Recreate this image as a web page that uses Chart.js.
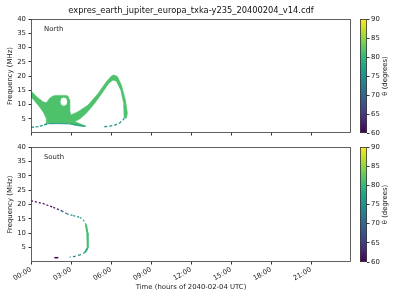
<!DOCTYPE html>
<html>
<head>
<meta charset="utf-8">
<script src="https://cdn.jsdelivr.net/npm/chart.js@4.4.0/dist/chart.umd.min.js"></script>
<style>
  html, body { margin: 0; padding: 0; background: #fff; }
  #wrap { position: relative; width: 400px; height: 300px; overflow: hidden; }
  #wrap canvas { position: absolute; }
</style>
</head>
<body>
<div id="wrap">
  <canvas id="north" width="380" height="140" style="left:0;top:0"></canvas>
  <canvas id="south" width="380" height="160" style="left:0;top:140px"></canvas>
  <canvas id="cbNorth" width="45" height="140" style="left:355px;top:0"></canvas>
  <canvas id="cbSouth" width="45" height="160" style="left:355px;top:140px"></canvas>
</div>
<script>
// 刻度
const xTickHours = [0, 3, 6, 9, 12, 15, 18, 21];
const xTickLabels = ['00:00', '03:00', '06:00', '09:00', '12:00', '15:00', '18:00', '21:00'];
const yTicks = [5, 10, 15, 20, 25, 30, 35, 40];
const thetaTicks = [60, 65, 70, 75, 80, 85, 90];

// North: 发射区轮廓 [小时, MHz]
const northShape = [
  [0, 14.8], [0.45, 12.6], [0.9, 11.0], [1.15, 10.6], [1.4, 12.2], [1.65, 13.0],
  [1.9, 13.2], [2.65, 13.2], [2.78, 12.9], [2.9, 11.6], [2.9, 8.1], [2.98, 6.3],
  [3.53, 7.5], [4.28, 9.8], [5.03, 13.9], [5.65, 18.0], [6.03, 20.0], [6.23, 20.35],
  [6.48, 19.8], [6.78, 16.8], [7.08, 11.6], [7.23, 6.9], [7.15, 5.15], [6.98, 5.4],
  [6.95, 10.4], [6.73, 15.1], [6.4, 18.2], [6.15, 18.6], [5.83, 17.4], [5.4, 14.5],
  [4.78, 10.4], [4.15, 6.9], [3.65, 4.9], [3.28, 4.0], [3.65, 3.3], [3.9, 2.8],
  [4.1, 2.4], [3.9, 2.25], [3.28, 2.7], [2.9, 3.3], [2.0, 3.4], [1.3, 3.3],
  [1.0, 2.8], [1.18, 3.8], [1.15, 5.1], [0.9, 7.5], [0.53, 9.8], [0, 12.7]
];
const northHole = [
  [2.72, 11.0], [2.65, 12.1], [2.46, 12.5], [2.27, 12.1],
  [2.2, 11.0], [2.27, 9.9], [2.46, 9.5], [2.65, 9.9]
];
const northEdgeLeft = [[0, 1.95], [0.5, 2.2], [0.95, 2.8], [1.3, 3.2]];
const northEdgeBottom = [[1.3, 3.25], [2.0, 3.3], [2.9, 3.2], [3.5, 2.75], [4.1, 2.35]];
const northEdgeRight = [[5.5, 2.2], [5.9, 2.4], [6.3, 2.8], [6.65, 3.5], [6.9, 4.6], [7.0, 5.2]];
const northTheta = 81.5;
const northEdgeTheta = 76;

// South: 发射曲线 [小时, MHz] 与 θ
const southUpper = [[0, 21.3], [0.93, 20.3], [1.67, 19.0], [2.3, 17.8], [2.68, 16.8], [3.17, 16.1], [3.67, 15.5], [3.92, 14.7], [4.12, 13.0]];
const southUpperTheta = [60, 61, 61, 62, 70, 74, 75, 77, 79];
const southVert = [[4.12, 13.0], [4.23, 10.1], [4.27, 7.8], [4.25, 4.9], [4.05, 3.3]];
const southVertTheta = [79, 81, 81, 81, 79];
const southLower = [[4.05, 3.3], [3.67, 2.5], [3.3, 1.95], [2.9, 1.7]];
const southLowerTheta = [78, 76, 74, 72];
const southDash = [[1.75, 1.5], [2.05, 1.5]];
const southDashTheta = [60, 60];

// viridis 色表
const cmapStops = ['#440154', '#482475', '#414487', '#355f8d', '#2a788e', '#21918c', '#22a884', '#44bf70', '#7ad151', '#bddf26', '#fde725'];
const thetaMin = 60, thetaMax = 90;

function hexToRgb(h) {
  const n = parseInt(h.slice(1), 16);
  return [(n >> 16) & 255, (n >> 8) & 255, n & 255];
}

function viridis(theta) {
  let t = Math.min(1, Math.max(0, (theta - thetaMin) / (thetaMax - thetaMin))) * (cmapStops.length - 1);
  const i = Math.min(Math.floor(t), cmapStops.length - 2);
  const a = hexToRgb(cmapStops[i]), b = hexToRgb(cmapStops[i + 1]);
  const f = t - i;
  return 'rgb(' + a.map((v, k) => Math.round(v + (b[k] - v) * f)).join(',') + ')';
}

const toXY = pts => pts.map(p => ({ x: p[0], y: p[1] }));

Chart.defaults.font.family = '"DejaVu Sans", sans-serif';
Chart.defaults.font.size = 6.9;
Chart.defaults.color = '#222';
Chart.defaults.animation = false;

// 边框、标题与面板文字
const framePlugin = {
  id: 'frame',
  afterDraw(chart, args, opts) {
    const { ctx, chartArea: a } = chart;
    ctx.save();
    ctx.strokeStyle = '#3a3a3a';
    ctx.lineWidth = 0.8;
    ctx.strokeRect(Math.round(a.left) + 0.5, Math.round(a.top) + 0.5, Math.round(a.width) - 1, Math.round(a.height) - 1);
    ctx.fillStyle = '#222';
    ctx.font = '6.9px "DejaVu Sans"';
    if (opts.text) {
      ctx.textBaseline = 'middle';
      ctx.fillText(opts.text, a.left + 13, a.top + 10.5);
    }
    if (opts.title) {
      ctx.fillStyle = '#111';
      ctx.font = '8.3px "DejaVu Sans"';
      ctx.textAlign = 'center';
      ctx.textBaseline = 'middle';
      ctx.fillText(opts.title, (a.left + a.right) / 2, 11);
    }
    if (opts.sideTitle) {
      ctx.translate(30, (a.top + a.bottom) / 2);
      ctx.rotate(-Math.PI / 2);
      ctx.textAlign = 'center';
      ctx.textBaseline = 'middle';
      ctx.fillText(opts.sideTitle, 0, 0);
    }
    ctx.restore();
  }
};

function lineSet(pts, theta, extra) {
  return Object.assign({
    data: toXY(pts),
    showLine: true,
    pointRadius: 0,
    fill: false,
    borderWidth: 1.3,
    segment: { borderColor: c => viridis(theta[c.p1DataIndex]) }
  }, extra);
}

function panelOptions(label, showX) {
  return {
    responsive: false,
    devicePixelRatio: 1,
    layout: { padding: { top: showX ? 7 : 19, right: 29, bottom: 0, left: 0 } },
    plugins: {
      legend: { display: false },
      tooltip: { enabled: false },
      frame: {
        text: label,
        title: showX ? '' : 'expres_earth_jupiter_europa_txka-y235_20400204_v14.cdf'
      }
    },
    scales: {
      x: {
        type: 'linear', min: 0, max: 24,
        afterBuildTicks: s => { s.ticks = xTickHours.map(v => ({ value: v })); },
        afterFit: s => { s.height = showX ? 38 : 7; },
        grid: { drawOnChartArea: false, tickLength: 2.5, color: '#333' },
        border: { display: false },
        ticks: {
          autoSkip: false, maxRotation: 30, minRotation: 30, padding: 1,
          callback: (v, i) => showX ? xTickLabels[i] : ''
        },
        title: { display: showX, text: 'Time (hours of 2040-02-04 UTC)', padding: { top: 0, bottom: 8.5 } }
      },
      y: {
        min: 0, max: 40,
        afterBuildTicks: s => { s.ticks = yTicks.map(v => ({ value: v })); },
        afterFit: s => { s.width = 31; },
        grid: { drawOnChartArea: false, tickLength: 2.5, color: '#333' },
        border: { display: false },
        ticks: { padding: 2.5 },
        title: { display: true, text: 'Frequency (MHz)', padding: { top: 6, bottom: 0 } }
      }
    }
  };
}

new Chart(document.getElementById('north'), {
  type: 'scatter',
  data: {
    datasets: [
      { data: toXY(northHole), showLine: true, fill: 'shape', pointRadius: 0, borderWidth: 0, backgroundColor: '#fff', order: 0 },
      lineSet(northEdgeLeft, northEdgeLeft.map(() => northEdgeTheta), { borderDash: [3, 1.5], order: 1 }),
      lineSet(northEdgeBottom, northEdgeBottom.map(() => northEdgeTheta), { borderWidth: 1, order: 1 }),
      lineSet(northEdgeRight, northEdgeRight.map(() => northEdgeTheta), { borderDash: [3, 2], order: 1 }),
      { data: toXY(northShape), showLine: true, fill: 'shape', pointRadius: 0, borderWidth: 0.6,
        borderColor: viridis(northTheta), backgroundColor: viridis(northTheta), order: 2 }
    ]
  },
  options: panelOptions('North', false),
  plugins: [framePlugin]
});

new Chart(document.getElementById('south'), {
  type: 'scatter',
  data: {
    datasets: [
      lineSet(southUpper, southUpperTheta, { borderDash: [2, 2] }),
      lineSet(southVert, southVertTheta, { borderWidth: 2 }),
      lineSet(southLower, southLowerTheta, { borderDash: [2, 2.5] }),
      lineSet(southDash, southDashTheta, { borderWidth: 1.5 })
    ]
  },
  options: panelOptions('South', true),
  plugins: [framePlugin]
});

// 色标
function colorbar(id, padTop, padBottom) {
  return new Chart(document.getElementById(id), {
    type: 'bar',
    data: {
      labels: [''],
      datasets: [{
        data: [[thetaMin, thetaMax]],
        barPercentage: 1, categoryPercentage: 1, borderWidth: 0,
        backgroundColor: c => {
          const a = c.chart.chartArea;
          if (!a) return cmapStops[5];
          const g = c.chart.ctx.createLinearGradient(0, a.bottom, 0, a.top);
          cmapStops.forEach((col, i) => g.addColorStop(i / (cmapStops.length - 1), col));
          return g;
        }
      }]
    },
    options: {
      responsive: false,
      devicePixelRatio: 1,
      layout: { padding: { top: padTop, bottom: padBottom, left: 5, right: 0 } },
      plugins: {
        legend: { display: false },
        tooltip: { enabled: false },
        frame: { sideTitle: 'θ (degrees)' }
      },
      scales: {
        x: { display: false },
        y: {
          position: 'right', min: thetaMin, max: thetaMax,
          afterBuildTicks: s => { s.ticks = thetaTicks.map(v => ({ value: v })); },
          afterFit: s => { s.width = 33; },
          grid: { drawOnChartArea: false, tickLength: 2.5, color: '#333' },
          border: { display: false },
          ticks: { padding: 1.5 }
        }
      }
    },
    plugins: [framePlugin]
  });
}

colorbar('cbNorth', 19, 7);
colorbar('cbSouth', 7, 38);
</script>
</body>
</html>
